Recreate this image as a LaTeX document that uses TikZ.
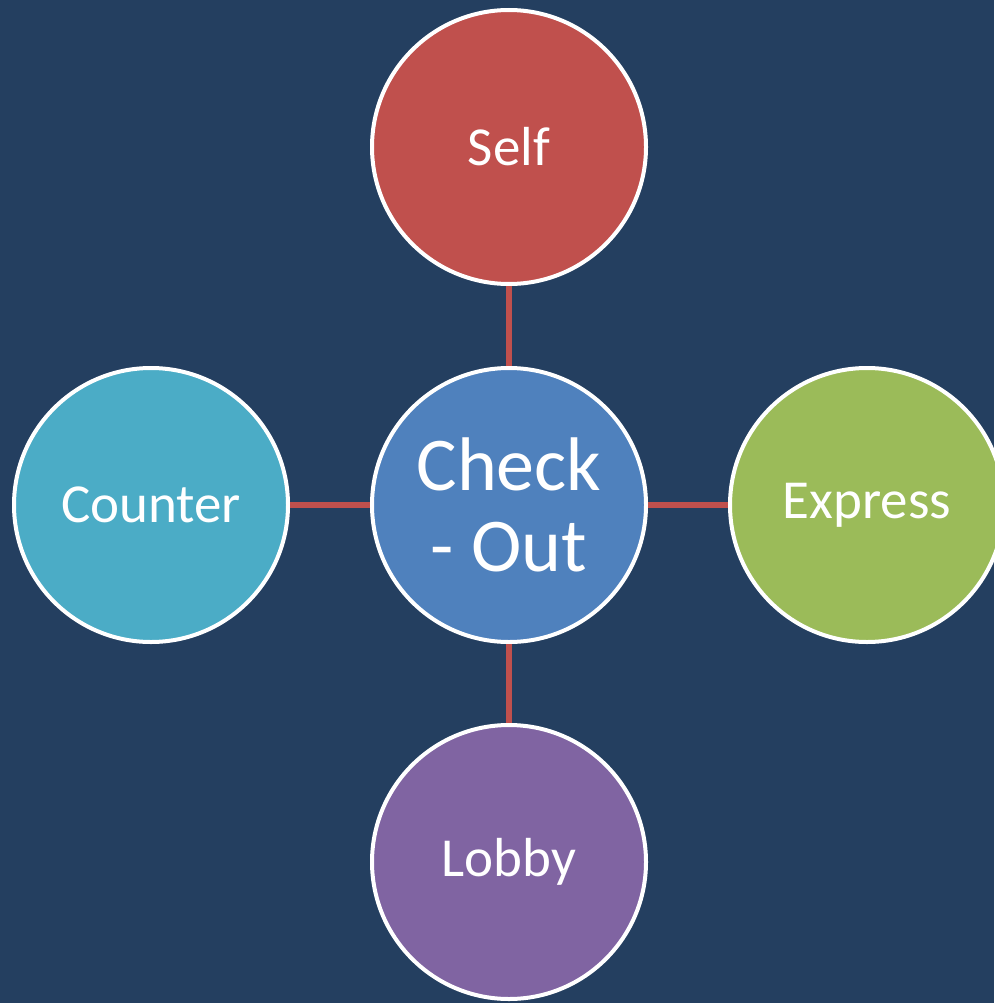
\documentclass[tikz,border=0pt]{standalone}
\usepackage{fontspec}
\setmainfont{Carlito}
\definecolor{bg}{HTML}{243F60}
\definecolor{cred}{HTML}{C0504D}
\definecolor{cblue}{HTML}{4F81BD}
\definecolor{cgreen}{HTML}{9BBB59}
\definecolor{cpurple}{HTML}{8064A2}
\definecolor{cteal}{HTML}{4BACC6}
\begin{document}
\begin{tikzpicture}[x=1pt,y=-1pt,
  bubble/.style={circle,draw=white,line width=4pt,minimum size=274pt,inner sep=0pt,
    text=white,align=center,font=\fontsize{55}{60}\selectfont},
  link/.style={draw=cred,line width=5.5pt}]
\fill[bg] (0,0) rectangle (994,1003);
\useasboundingbox (0,0) rectangle (994,1003);
\node[bubble,fill=cblue,font=\fontsize{76}{81}\selectfont] (c) at (509,505) {Check\\- Out};
\node[bubble,fill=cred] (self) at (509,147) {Self};
\node[bubble,fill=cteal] (counter) at (151,505) {Counter};
\node[bubble,fill=cgreen] (express) at (867,505) {Express};
\node[bubble,fill=cpurple] (lobby) at (509,862) {Lobby};
\draw[link] (c) -- (self);
\draw[link] (c) -- (counter);
\draw[link] (c) -- (express);
\draw[link] (c) -- (lobby);
\end{tikzpicture}
\end{document}
